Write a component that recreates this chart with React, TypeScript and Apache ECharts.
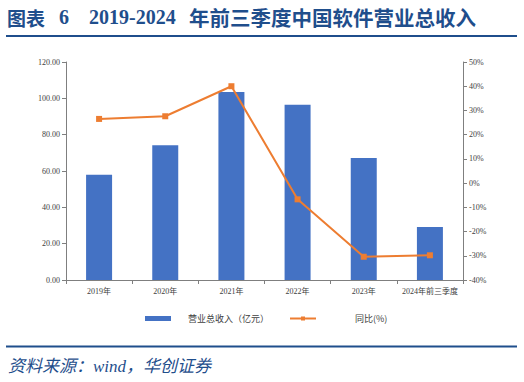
import React, { useEffect, useRef } from "react";
import * as echarts from "echarts";

const categories = ["2019年", "2020年", "2021年", "2022年", "2023年", "2024年前三季度"];
const revenue = [58.0, 74.2, 103.5, 96.5, 67.2, 29.2];
const yoy = [26.5, 27.6, 40.0, -6.7, -30.4, -29.8];
const leftTicks = [0, 120, 20];
const rightTicks = [-40, 50, 10];

export default function App() {
  const ref = useRef<HTMLDivElement>(null);
  useEffect(() => {
    const chart = echarts.init(ref.current!, null, { renderer: "svg" });
    const axisColor = "#7f7f7f";
    const labelStyle = { color: "#404040", fontSize: 8, fontFamily: "Liberation Serif" };
    const navy = "#1f4e8c";
    const titleText = (text: string, x: number, font: string) => ({
      type: "text",
      x,
      y: 17,
      style: { text, font, fill: navy, verticalAlign: "middle" },
    });
    chart.setOption({
      animation: false,
      backgroundColor: "#ffffff",
      grid: { left: 66, right: 61, top: 62, bottom: 102, containLabel: false },
      graphic: [
        titleText("图表", 7, "bold 19px 'Noto Sans CJK SC'"),
        titleText("6", 59, "bold 20px 'Liberation Serif'"),
        titleText("2019-2024", 89, "bold 20px 'Liberation Serif'"),
        titleText("年前三季度中国软件营业总收入", 189, "bold 20.5px 'Noto Sans CJK SC'"),
        { type: "line", shape: { x1: 6, y1: 36, x2: 517, y2: 36 }, style: { stroke: navy, lineWidth: 2 } },
        { type: "line", shape: { x1: 6, y1: 346.5, x2: 517, y2: 346.5 }, style: { stroke: navy, lineWidth: 2 } },
        {
          type: "text",
          x: 8,
          y: 366,
          style: {
            text: "资料来源：wind，华创证券",
            font: "italic 17px 'Liberation Serif', 'Noto Sans CJK SC'",
            fill: navy,
            verticalAlign: "middle",
          },
        },
      ],
      legend: {
        top: 309,
        left: 140,
        itemGap: 20,
        itemWidth: 26,
        itemHeight: 5,
        textStyle: { color: "#404040", fontSize: 9, fontFamily: "Noto Sans CJK SC", padding: [0, 0, 0, 12] },
        data: [
          { name: "营业总收入（亿元）", icon: "rect" },
          { name: "同比(%)", textStyle: { padding: [0, 0, 0, 34] } },
        ],
      },
      xAxis: {
        type: "category",
        data: categories,
        axisLine: { lineStyle: { color: axisColor } },
        axisTick: { show: true, length: 4, lineStyle: { color: axisColor } },
        axisLabel: { ...labelStyle, fontFamily: "Liberation Serif, Noto Sans CJK SC", margin: 7, interval: 0 },
      },
      yAxis: [
        {
          type: "value",
          min: leftTicks[0],
          max: leftTicks[1],
          interval: leftTicks[2],
          splitLine: { show: false },
          axisLine: { show: true, lineStyle: { color: axisColor } },
          axisTick: { show: true, length: 4, lineStyle: { color: axisColor } },
          axisLabel: { ...labelStyle, margin: 6, formatter: (v: number) => v.toFixed(2) },
        },
        {
          type: "value",
          min: rightTicks[0],
          max: rightTicks[1],
          interval: rightTicks[2],
          splitLine: { show: false },
          axisLine: { show: true, lineStyle: { color: axisColor } },
          axisTick: { show: true, length: 4, lineStyle: { color: axisColor } },
          axisLabel: { ...labelStyle, margin: 6, formatter: (v: number) => v + "%" },
        },
      ],
      series: [
        {
          name: "营业总收入（亿元）",
          type: "bar",
          data: revenue,
          barWidth: 26,
          itemStyle: { color: "#4472c4" },
          yAxisIndex: 0,
        },
        {
          name: "同比(%)",
          type: "line",
          data: yoy,
          yAxisIndex: 1,
          symbol: "rect",
          symbolSize: 6,
          lineStyle: { color: "#ed7d31", width: 2 },
          itemStyle: { color: "#ed7d31" },
        },
      ],
    });
    return () => chart.dispose();
  }, []);
  return (
    <div
      ref={ref}
      style={{ position: "fixed", left: 0, top: 0, width: 524, height: 382 }}
    />
  );
}
